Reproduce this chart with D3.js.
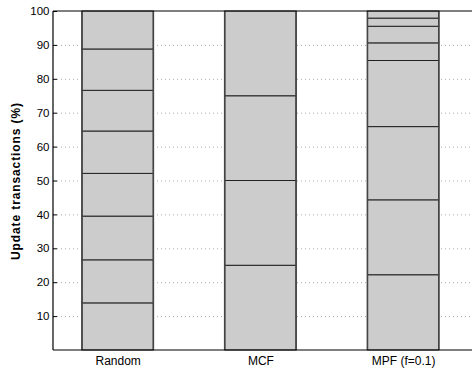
<!DOCTYPE html>
<html><head><meta charset="utf-8">
<script src="https://cdn.jsdelivr.net/npm/d3@7"></script>
<style>body{margin:0;background:#fff}svg{display:block}</style>
</head><body>
<svg id="c" width="472" height="368"></svg>
<script>
const categories = ["Random", "MCF", "MPF (f=0.1)"];
const randomSegs = [13.9, 12.7, 12.9, 12.6, 12.5, 12.0, 12.2, 11.2];
const mcfSegs = [25, 25, 25, 25];
const mpfSegs = [22.2, 22.1, 21.6, 19.5, 5.2, 4.9, 2.4, 2.1];
const yTicks = [10, 20, 30, 40, 50, 60, 70, 80, 90, 100];
const yLabel = "Update transactions (%)";

const seriesList = [randomSegs, mcfSegs, mpfSegs];
const svg = d3.select("#c");
const x = d3.scaleLinear().domain([0.547, 3.5]).range([53, 474.5]);
const y = d3.scaleLinear().domain([0, 100]).range([350, 11]);
const barW = 0.5;
const font = "'Liberation Sans', Arial, Helvetica, sans-serif";

// grid
svg.append("g").selectAll("line").data(yTicks.filter(d => d < 100)).join("line")
  .attr("x1", x.range()[0]).attr("x2", 472)
  .attr("y1", d => y(d) + 0.5).attr("y2", d => y(d) + 0.5)
  .attr("stroke", "#aaa").attr("stroke-width", 1).attr("stroke-dasharray", "1,3");

// bars
seriesList.forEach((segs, i) => {
  let cum = 0;
  const rects = segs.map(v => { const r = {y0: cum, y1: cum + v}; cum += v; return r; });
  const g = svg.append("g");
  g.selectAll("rect").data(rects).join("rect")
    .attr("x", x(i + 1 - barW / 2))
    .attr("width", x(i + 1 + barW / 2) - x(i + 1 - barW / 2))
    .attr("y", d => y(d.y1))
    .attr("height", d => y(d.y0) - y(d.y1))
    .attr("fill", "#cccccc").attr("stroke", "#222").attr("stroke-width", 1);
  [i + 1 - barW / 2, i + 1 + barW / 2].forEach(xv => {
    g.append("line").attr("x1", x(xv)).attr("x2", x(xv))
      .attr("y1", y(0)).attr("y2", y(100))
      .attr("stroke", "#444").attr("stroke-width", 1.6);
  });
});

// axes frame
const frame = svg.append("g").attr("stroke", "#000").attr("stroke-width", 1.2);
frame.append("line").attr("x1", 53).attr("x2", 472).attr("y1", y(0)).attr("y2", y(0));
frame.append("line").attr("x1", 53).attr("x2", 472).attr("y1", y(100)).attr("y2", y(100));
frame.append("line").attr("x1", 53).attr("x2", 53).attr("y1", y(0)).attr("y2", y(100));

// y axis
const yAxis = d3.axisLeft(y).tickValues(yTicks).tickSize(-4).tickPadding(3.5);
const ya = svg.append("g").attr("transform", "translate(53,0)").call(yAxis);
ya.select(".domain").remove();
ya.selectAll("text").attr("font-family", font).attr("font-size", 11.5).attr("fill", "#000");
ya.selectAll("line").attr("stroke", "#000");

// x labels
const xa = d3.axisBottom(x).tickValues([1, 2, 3]).tickFormat((d, i) => categories[i]).tickSize(0).tickPadding(6);
const xg = svg.append("g").attr("transform", `translate(0,${y(0)})`).call(xa);
xg.select(".domain").remove();
xg.selectAll("text").attr("font-family", font).attr("font-size", 12).attr("fill", "#000");

// y label
svg.append("text").attr("transform", `translate(16.5,181.5) rotate(-90)`)
  .attr("text-anchor", "middle").attr("dominant-baseline", "middle")
  .attr("font-family", font).attr("font-size", 12).attr("font-weight", "bold")
  .attr("textLength", 157).attr("lengthAdjust", "spacing")
  .text(yLabel);
</script>
</body></html>
